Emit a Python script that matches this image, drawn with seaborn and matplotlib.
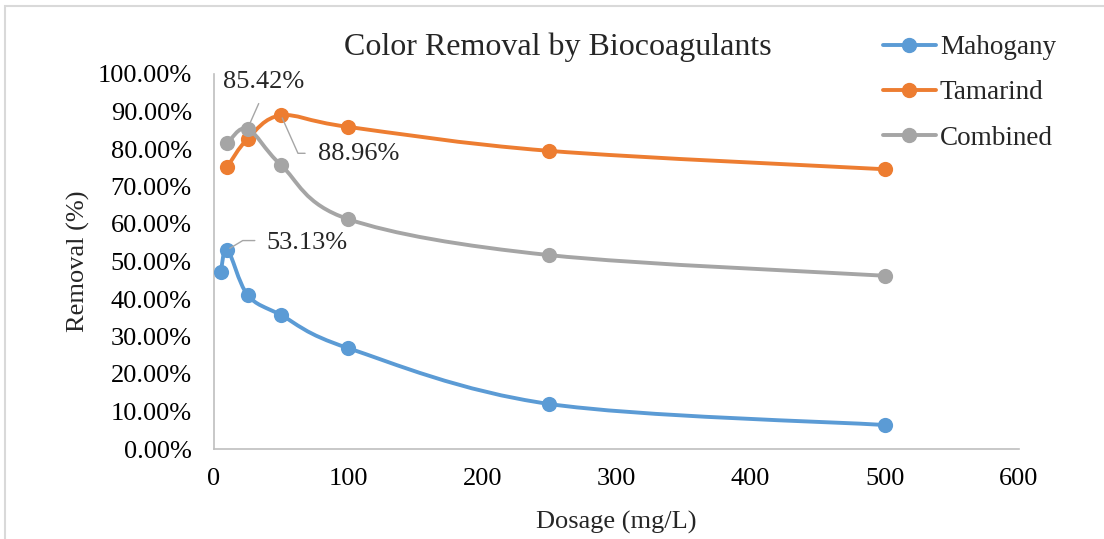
import numpy as np
import pandas as pd
import matplotlib
matplotlib.use("Agg")
import matplotlib.pyplot as plt
import seaborn as sns
from matplotlib.path import Path
from matplotlib.patches import PathPatch, Rectangle
from matplotlib.lines import Line2D
from matplotlib.ticker import FuncFormatter, MultipleLocator

# ---- data ----
mahogany_x = [5, 10, 25, 50, 100, 250, 500]
mahogany_y = [47.1, 53.13, 41.1, 35.7, 26.9, 12.0, 6.4]
tamarind_x = [10, 25, 50, 100, 250, 500]
tamarind_y = [75.3, 82.7, 88.96, 85.9, 79.5, 74.6]
combined_x = [10, 25, 50, 100, 250, 500]
combined_y = [81.5, 85.42, 75.7, 61.3, 51.7, 46.2]
series_names = ["Mahogany", "Tamarind", "Combined"]
series_colors = ["#5B9BD5", "#ED7D31", "#A5A5A5"]
title_text = "Color Removal by Biocoagulants"
x_label = "Dosage (mg/L)"
y_label = "Removal (%)"

sns.set_style("white")
plt.rcParams["font.family"] = ["Liberation Serif", "DejaVu Serif"]

fig = plt.figure(figsize=(11.04, 5.39), dpi=100)
W, H = 1104, 539
ax = fig.add_axes([214 / W, 1 - 449 / H, (1019 - 214) / W, (449 - 74) / H])

# chart-area border
fig.patches.append(Rectangle((5 / W, -0.2), 1.5, 1.2 - 6 / H,
                             transform=fig.transFigure, fill=False,
                             edgecolor="#D9D9D9", linewidth=1.5, zorder=0))

frames = []
for name, xs, ys in zip(series_names, [mahogany_x, tamarind_x, combined_x],
                        [mahogany_y, tamarind_y, combined_y]):
    frames.append(pd.DataFrame({"dose": xs, "removal": ys, "series": name}))
df = pd.concat(frames, ignore_index=True)


def smooth_path(xs, ys):
    pts = np.column_stack([xs, ys]).astype(float)
    n = len(pts)
    verts = [pts[0]]
    codes = [Path.MOVETO]
    for i in range(n - 1):
        p0 = pts[i - 1] if i > 0 else pts[i]
        p1 = pts[i]
        p2 = pts[i + 1]
        p3 = pts[i + 2] if i + 2 < n else pts[i + 1]
        c1 = p1 + (p2 - p0) / 6.0
        c2 = p2 - (p3 - p1) / 6.0
        verts += [c1, c2, p2]
        codes += [Path.CURVE4] * 3
    return Path(verts, codes)


for k, (name, color) in enumerate(zip(series_names, series_colors)):
    sub = df[df["series"] == name]
    patch = PathPatch(smooth_path(sub["dose"].values, sub["removal"].values),
                      fill=False, edgecolor=color, linewidth=2.8,
                      capstyle="round", joinstyle="round", zorder=3 + 2 * k)
    ax.add_patch(patch)
    sns.scatterplot(data=sub, x="dose", y="removal", color=color, s=120,
                    linewidth=0, ax=ax, legend=False, zorder=4 + 2 * k)

ax.set_xlim(0, 600)
ax.set_ylim(0, 100)
ax.xaxis.set_major_locator(MultipleLocator(100))
ax.yaxis.set_major_locator(MultipleLocator(10))
ax.yaxis.set_major_formatter(FuncFormatter(lambda v, p: f"{v:.2f}%"))
ax.tick_params(axis="both", length=0, labelsize=19, colors="black")
ax.tick_params(axis="y", pad=16)
ax.tick_params(axis="x", pad=14)
for s in ["top", "right"]:
    ax.spines[s].set_visible(False)
for s in ["left", "bottom"]:
    ax.spines[s].set_color("#BFBFBF")
    ax.spines[s].set_linewidth(1.2)
ax.grid(False)

ax.set_xlabel(x_label, fontsize=19)
ax.set_ylabel(y_label, fontsize=19)
ax.xaxis.set_label_coords(0.5, -(511 - 449) / 375)
ax.yaxis.set_label_coords((90 - 214) / 805, 0.5)

fig.text(558 / W, 1 - 47 / H, title_text, ha="center", va="center", fontsize=23)

# data labels
lead = dict(arrowstyle="-", color="#A6A6A6", linewidth=1.0)
ax.annotate("85.42%", xy=(25, 85.42), xytext=(16, 47), textcoords="offset pixels",
            ha="center", va="center", fontsize=19,
            arrowprops=dict(lead, relpos=(0.5, 0.0), shrinkA=6, shrinkB=2), zorder=20)
ax.annotate("88.96%", xy=(50, 88.96), xytext=(37, -39), textcoords="offset pixels",
            ha="left", va="center", fontsize=19,
            arrowprops=dict(lead, relpos=(0.0, 0.55), shrinkA=7, shrinkB=2,
                            connectionstyle="angle,angleA=0,angleB=114,rad=0"), zorder=20)
ax.annotate("53.13%", xy=(10, 53.13), xytext=(39, 7), textcoords="offset pixels",
            ha="left", va="center", fontsize=19,
            arrowprops=dict(lead, relpos=(0.0, 0.6), shrinkA=6, shrinkB=2,
                            connectionstyle="angle,angleA=0,angleB=31,rad=0"), zorder=20)

handles = [Line2D([0], [0], color=c, lw=2.8, marker="o", markersize=10)
           for c in series_colors]
fig.legend(handles, series_names, loc="upper left",
           bbox_to_anchor=(883 / W, 1 - 35 / H), frameon=False, fontsize=19.5,
           handlelength=1.95, handletextpad=0.15, labelspacing=0.75,
           borderpad=0, borderaxespad=0)

fig.savefig("out.png", dpi=100)
